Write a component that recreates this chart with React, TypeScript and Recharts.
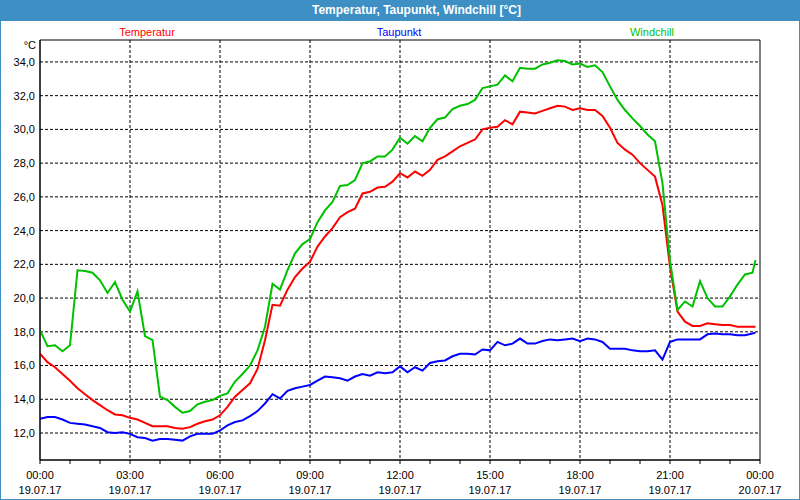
import { LineChart, Line, XAxis, YAxis, CartesianGrid, ReferenceArea } from 'recharts';

// 15-minute readings, 19.07.17 00:00 to about 23:50
const hours = [...Array.from({ length: 96 }, (_, i) => i / 4), 23.85];

const temperatur = [
  16.7, 16.2, 15.9, 15.5, 15.1, 14.65, 14.3, 13.95, 13.65, 13.35, 13.1, 13.05,
  12.9, 12.8, 12.6, 12.4, 12.4, 12.4, 12.3, 12.25, 12.35, 12.55, 12.7, 12.8,
  13.05, 13.55, 14.15, 14.55, 14.95, 15.8, 17.5, 19.6, 19.55, 20.5, 21.25, 21.75,
  22.15, 23.05, 23.65, 24.15, 24.8, 25.1, 25.3, 26.2, 26.3, 26.55, 26.6, 26.9,
  27.4, 27.15, 27.5, 27.25, 27.6, 28.2, 28.4, 28.7, 29.0, 29.2, 29.4, 30.0,
  30.1, 30.15, 30.55, 30.3, 31.05, 31.0, 30.95, 31.1, 31.25, 31.4, 31.35, 31.15,
  31.25, 31.15, 31.15, 30.8, 30.1, 29.2, 28.8, 28.5, 28.0, 27.6, 27.2, 25.5,
  21.85, 19.2, 18.6, 18.35, 18.35, 18.5, 18.45, 18.4, 18.4, 18.3, 18.3, 18.3,
  18.3,
];

const taupunkt = [
  12.85, 12.95, 12.95, 12.8, 12.6, 12.55, 12.5, 12.4, 12.3, 12.05, 12.0, 12.05,
  11.95, 11.75, 11.7, 11.55, 11.65, 11.65, 11.6, 11.55, 11.8, 11.95, 11.95, 11.95,
  12.15, 12.45, 12.65, 12.75, 13.0, 13.3, 13.75, 14.3, 14.05, 14.5, 14.65, 14.75,
  14.85, 15.1, 15.35, 15.3, 15.25, 15.1, 15.35, 15.5, 15.4, 15.6, 15.55, 15.6,
  15.95, 15.6, 15.9, 15.7, 16.15, 16.25, 16.3, 16.55, 16.7, 16.7, 16.65, 16.95,
  16.9, 17.4, 17.2, 17.3, 17.6, 17.3, 17.3, 17.45, 17.55, 17.5, 17.55, 17.6,
  17.45, 17.6, 17.55, 17.4, 17.0, 17.0, 17.0, 16.9, 16.85, 16.85, 16.9, 16.35,
  17.4, 17.55, 17.55, 17.55, 17.55, 17.85, 17.9, 17.85, 17.85, 17.8, 17.8, 17.9,
  17.95,
];

const windchill = [
  18.1, 17.15, 17.2, 16.85, 17.2, 21.65, 21.6, 21.5, 21.05, 20.3, 20.95, 19.9,
  19.2, 20.4, 17.75, 17.5, 14.15, 13.95, 13.55, 13.2, 13.3, 13.7, 13.85, 13.95,
  14.2, 14.35, 15.05, 15.5, 16.0, 16.9, 18.3, 20.85, 20.5, 21.65, 22.65, 23.2,
  23.5, 24.5, 25.2, 25.7, 26.65, 26.7, 27.0, 28.0, 28.1, 28.4, 28.4, 28.8,
  29.5, 29.15, 29.6, 29.3, 30.1, 30.6, 30.7, 31.2, 31.4, 31.5, 31.75, 32.45,
  32.55, 32.65, 33.2, 32.85, 33.65, 33.6, 33.6, 33.85, 33.95, 34.1, 34.05, 33.85,
  33.9, 33.7, 33.8, 33.4, 32.55, 31.75, 31.15, 30.65, 30.2, 29.7, 29.3, 26.8,
  22.2, 19.3, 19.8, 19.5, 21.0, 20.0, 19.5, 19.5, 20.1, 20.8, 21.4, 21.5,
  22.25,
];

const yTicks = [12, 14, 16, 18, 20, 22, 24, 26, 28, 30, 32, 34];
const hourTicks = Array.from({ length: 25 }, (_, i) => i);
const gridHours = [3, 6, 9, 12, 15, 18, 21];
const timeLabels = ['00:00', '03:00', '06:00', '09:00', '12:00', '15:00', '18:00', '21:00', '00:00'];
const dateLabels = ['19.07.17', '19.07.17', '19.07.17', '19.07.17', '19.07.17', '19.07.17', '19.07.17', '19.07.17', '20.07.17'];

const series = [
  { key: 'temperatur', name: 'Temperatur', color: '#ff0000', legendX: 147 },
  { key: 'taupunkt', name: 'Taupunkt', color: '#0000ff', legendX: 399 },
  { key: 'windchill', name: 'Windchill', color: '#00c000', legendX: 652 },
];

const data = hours.map((t, i) => ({
  t,
  temperatur: temperatur[i],
  taupunkt: taupunkt[i],
  windchill: windchill[i],
}));

const font = "'Liberation Sans', Arial, sans-serif";
const blue = '#3d8fc4';

function TimeTick({ x, y, payload }: any) {
  const idx = payload.value / 3;
  if (!Number.isInteger(idx)) return <g />;
  return (
    <g fontFamily={font} fontSize={11} fill="#000" textAnchor="middle">
      <text x={x} y={y + 13}>{timeLabels[idx]}</text>
      <text x={x} y={y + 28}>{dateLabels[idx]}</text>
    </g>
  );
}

export default function App() {
  return (
    <div
      style={{
        position: 'absolute',
        left: 0,
        top: 0,
        width: 800,
        height: 500,
        background: '#fff',
        boxSizing: 'border-box',
        border: `1px solid ${blue}`,
        borderTop: 'none',
        fontFamily: font,
        overflow: 'hidden',
      }}
    >
      <div style={{ position: 'absolute', left: -1, top: 0, width: 800, height: 21, background: blue }} />
      <div
        style={{
          position: 'absolute',
          left: 311,
          top: 0,
          lineHeight: '21px',
          fontSize: 12,
          fontWeight: 'bold',
          color: '#fff',
          whiteSpace: 'nowrap',
        }}
      >
        Temperatur, Taupunkt, Windchill [°C]
      </div>
      {series.map((s) => (
        <div
          key={s.key}
          style={{
            position: 'absolute',
            left: s.legendX - 1,
            top: 25,
            transform: 'translateX(-50%)',
            fontSize: 11,
            lineHeight: '14px',
            color: s.color,
            whiteSpace: 'nowrap',
          }}
        >
          {s.name}
        </div>
      ))}
      <div style={{ position: 'absolute', left: 0, width: 35, top: 38, textAlign: 'right', fontSize: 11, lineHeight: '14px' }}>
        °C
      </div>
      <div style={{ position: 'absolute', left: -1, top: 0 }}>
        <LineChart width={800} height={500} data={data} margin={{ top: 40, right: 40, bottom: 0, left: 0 }}>
          <CartesianGrid
            stroke="#000"
            strokeDasharray="3 2"
            verticalValues={gridHours}
            horizontalValues={yTicks}
          />
          <XAxis
            dataKey="t"
            type="number"
            domain={[0, 24]}
            ticks={hourTicks}
            interval={0}
            height={40}
            tickSize={4}
            tickMargin={2}
            tick={<TimeTick />}
            stroke="#000"
          />
          <YAxis
            type="number"
            domain={[10.4, 35.3]}
            ticks={yTicks}
            width={40}
            tickSize={0}
            tickMargin={5}
            tickFormatter={(v: number) => v.toFixed(1).replace('.', ',')}
            tick={{ fontSize: 11, fill: '#000', fontFamily: font }}
            stroke="#000"
            allowDataOverflow
          />
          <ReferenceArea x1={0} x2={24} y1={10.4} y2={35.3} fill="none" stroke="#000" strokeWidth={1} ifOverflow="visible" />
          {series.map((s) => (
            <Line
              key={s.key}
              dataKey={s.key}
              name={s.name}
              stroke={s.color}
              strokeWidth={2}
              dot={false}
              type="linear"
              isAnimationActive={false}
            />
          ))}
        </LineChart>
      </div>
    </div>
  );
}
